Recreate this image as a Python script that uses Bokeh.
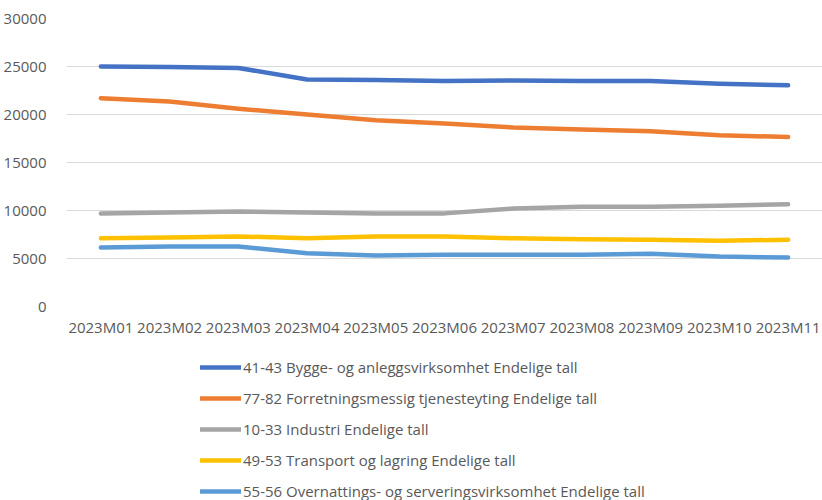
from bokeh.plotting import figure
from bokeh.models import Range1d, Legend, LegendItem, FixedTicker
from bokeh.layouts import column
from bokeh.embed import file_html
from bokeh.resources import INLINE

months = ["2023M01", "2023M02", "2023M03", "2023M04", "2023M05", "2023M06",
          "2023M07", "2023M08", "2023M09", "2023M10", "2023M11"]

bygge = [25000, 24950, 24850, 23650, 23600, 23500, 23550, 23500, 23500, 23200, 23050]
forretning = [21700, 21350, 20600, 20000, 19400, 19050, 18650, 18450, 18250, 17850, 17650]
industri = [9700, 9800, 9900, 9800, 9700, 9700, 10200, 10400, 10400, 10500, 10650]
transport = [7100, 7200, 7300, 7100, 7300, 7300, 7100, 7000, 6950, 6850, 6950]
overnatting = [6150, 6250, 6250, 5550, 5300, 5400, 5400, 5400, 5500, 5200, 5100]

series_names = [
    "41-43 Bygge- og anleggsvirksomhet Endelige tall",
    "77-82 Forretningsmessig tjenesteyting Endelige tall",
    "10-33 Industri Endelige tall",
    "49-53 Transport og lagring Endelige tall",
    "55-56 Overnattings- og serveringsvirksomhet Endelige tall",
]
series_values = [bygge, forretning, industri, transport, overnatting]
colors = ["#4472C4", "#ED7D31", "#A5A5A5", "#FFC000", "#5B9BD5"]
y_ticks = [0, 5000, 10000, 15000, 20000, 25000, 30000]

FONT = "Open Sans"
TXT = "#595959"
LW = 4.5

p = figure(width=822, height=340, x_range=months, y_range=Range1d(0, 30000),
           output_backend="svg", toolbar_location=None,
           min_border_left=66, min_border_top=18, min_border_right=0,
           min_border_bottom=34)
p.outline_line_color = None

for vals, c in zip(series_values, colors):
    p.line(months, vals, line_color=c, line_width=LW, line_join="round", line_cap="round")

p.yaxis.ticker = FixedTicker(ticks=y_ticks)
p.yaxis.axis_line_color = None
p.yaxis.major_tick_line_color = None
p.yaxis.minor_tick_line_color = None
p.yaxis.major_label_standoff = 14
p.xaxis.axis_line_color = None
p.xaxis.major_tick_line_color = None
p.xaxis.minor_tick_line_color = None
p.xaxis.major_label_standoff = 4
for ax in (p.xaxis, p.yaxis):
    ax.major_label_text_font = FONT
    ax.major_label_text_font_size = "15px"
    ax.major_label_text_color = TXT

p.xgrid.grid_line_color = None
p.ygrid.grid_line_color = "#D9D9D9"
p.ygrid.grid_line_width = 1.2

# legend panel (same frame alignment as the chart above)
lg = figure(width=822, height=160, x_range=Range1d(0, 1), y_range=Range1d(0, 1),
            output_backend="svg", toolbar_location=None,
            min_border_left=0, min_border_top=0, min_border_right=0, min_border_bottom=0)
lg.axis.visible = False
lg.grid.visible = False
lg.outline_line_color = None

nan = float("nan")
items = []
for name, c in zip(series_names, colors):
    r = lg.line([nan], [nan], line_color=c, line_width=LW, line_cap="round")
    items.append(LegendItem(label=name, renderers=[r]))

legend = Legend(items=items, orientation="vertical", location=(134, -1))
legend.border_line_color = None
legend.background_fill_alpha = 0
legend.label_text_font = FONT
legend.label_text_font_size = "15px"
legend.label_text_color = TXT
legend.glyph_width = 41
legend.glyph_height = 20
legend.label_height = 20
legend.spacing = 11
legend.padding = 0
legend.margin = 0
legend.label_standoff = 2
lg.add_layout(legend, "center")

layout = column(p, lg, spacing=0)
open("out.html", "w").write(file_html(layout, INLINE))
